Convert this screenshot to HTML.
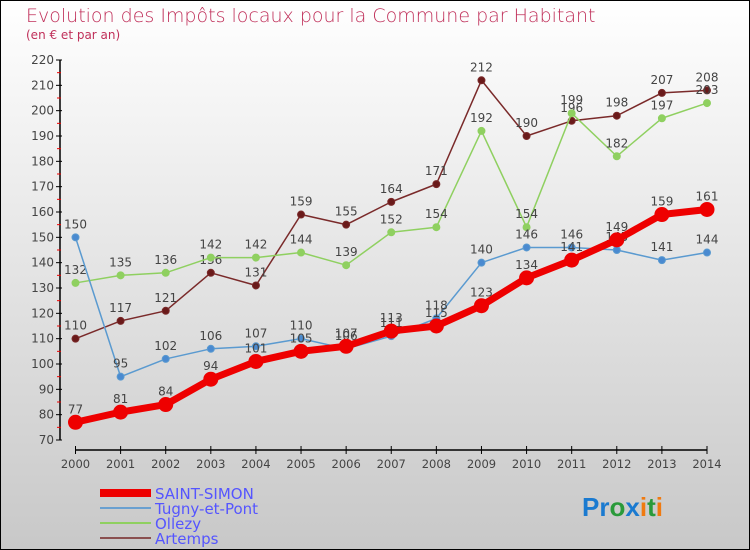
<!DOCTYPE html>
<html><head><meta charset="utf-8"><style>
body{margin:0}
#c{width:750px;height:550px;position:relative;overflow:hidden;background:linear-gradient(#fff,#c8c8c8);font-family:"DejaVu Sans","Liberation Sans",sans-serif}
</style></head><body>
<div id="c">
<svg id="s" width="750" height="550" xmlns="http://www.w3.org/2000/svg">
<rect x="0.5" y="0.5" width="749" height="549" fill="none" stroke="#000"/>
<text x="26" y="22" font-size="19" fill="#c0305a" font-family="DejaVu Sans" font-weight="200">Evolution des Impôts locaux pour la Commune par Habitant</text>
<text x="26" y="39" font-size="12" fill="#c0305a">(en € et par an)</text>
<g id="axes"></g><g id="series"></g>
<g>
<line x1="100" y1="493" x2="151" y2="493" stroke="#e00" stroke-width="8"/>
<text x="155" y="499" font-size="15" fill="#55f">SAINT-SIMON</text>
<line x1="100" y1="508" x2="151" y2="508" stroke="#6aa0d0" stroke-width="2"/>
<text x="155" y="514" font-size="15" fill="#55f">Tugny-et-Pont</text>
<line x1="100" y1="523" x2="151" y2="523" stroke="#8fd060" stroke-width="2"/>
<text x="155" y="529" font-size="15" fill="#55f">Ollezy</text>
<line x1="100" y1="538" x2="151" y2="538" stroke="#8a5050" stroke-width="2"/>
<text x="155" y="544" font-size="15" fill="#55f">Artemps</text>
</g>
<g font-size="26" font-family="Liberation Sans" font-weight="bold">
<text x="582" y="516"><tspan fill="#1a7ad0">Pr</tspan><tspan fill="#2a9a3a">o</tspan><tspan fill="#1a7ad0">x</tspan><tspan fill="#f07a10">i</tspan><tspan fill="#2a9a3a">t</tspan><tspan fill="#f07a10">i</tspan></text>
</g>
</svg>
</div>
<script>
const years=[2000,2001,2002,2003,2004,2005,2006,2007,2008,2009,2010,2011,2012,2013,2014];
const saintSimon=[77,81,84,94,101,105,107,113,115,123,134,141,149,159,161];
const tugny=[150,95,102,106,107,110,106,111,118,140,146,146,145,141,144];
const ollezy=[132,135,136,142,142,144,139,152,154,192,154,199,182,197,203];
const artemps=[110,117,121,136,131,159,155,164,171,212,190,196,198,207,208];
const yTicks=[70,80,90,100,110,120,130,140,150,160,170,180,190,200,210,220];
const NS="http://www.w3.org/2000/svg";
const x=i=>75.5+i*(707-75.5)/(years.length-1);
const y=v=>440-(v-70)*380/150;
function el(t,a,p){const e=document.createElementNS(NS,t);for(const k in a)e.setAttribute(k,a[k]);p.appendChild(e);return e;}
const ax=document.getElementById('axes'),sg=document.getElementById('series');
const yl=el('line',{x1:60,y1:y(220),x2:60,y2:y(70),stroke:'#000','stroke-width':1.5},ax);


yTicks.forEach(v=>{
 el('line',{x1:56,y1:y(v),x2:62,y2:y(v),stroke:'#000'},ax);
 if(v<220)el('line',{x1:57,y1:y(v+5),x2:61,y2:y(v+5),stroke:'#e00'},ax);
 const t=el('text',{x:54,y:y(v)+4,'font-size':12,'text-anchor':'end',fill:'#444'},ax);t.textContent=v;
 
 
});
const xl=el('line',{x1:x(0),y1:450,x2:x(14),y2:450,stroke:'#000','stroke-width':1.5},ax);


years.forEach((yr,i)=>{
 el('line',{x1:x(i),y1:446,x2:x(i),y2:454,stroke:'#000'},ax);
 const t=el('text',{x:x(i),y:468,'font-size':11.5,'text-anchor':'middle',fill:'#444'},ax);t.textContent=yr;
 
 
});
function draw(data,name,col,fill,w,r){
 const g=el('g',{},sg);
 
 
 const p=el('polyline',{points:data.map((v,i)=>x(i)+','+y(v)).join(' '),fill:'none',stroke:col,'stroke-width':w,'stroke-linejoin':'round'},g);
 
 
 data.forEach((v,i)=>{
  const c=el('circle',{cx:x(i),cy:y(v),r:r,fill:fill,stroke:col,'stroke-width':1},g);
  
  
  const t=el('text',{x:x(i),y:y(v)-9,'font-size':12,'text-anchor':'middle',fill:'#444'},g);t.textContent=v;
  
  
 });
}
draw(artemps,'artemps','#7a2a2a','#6a1a1a',1.5,3.5);
draw(ollezy,'ollezy','#8fd060','#8fd060',1.5,3.5);
draw(tugny,'tugny-et-pont','#5a9ad0','#4a8ad0',1.5,3.5);
draw(saintSimon,'saint-simon','#ee0000','#ee0000',7,7);
</script>
</body></html>
